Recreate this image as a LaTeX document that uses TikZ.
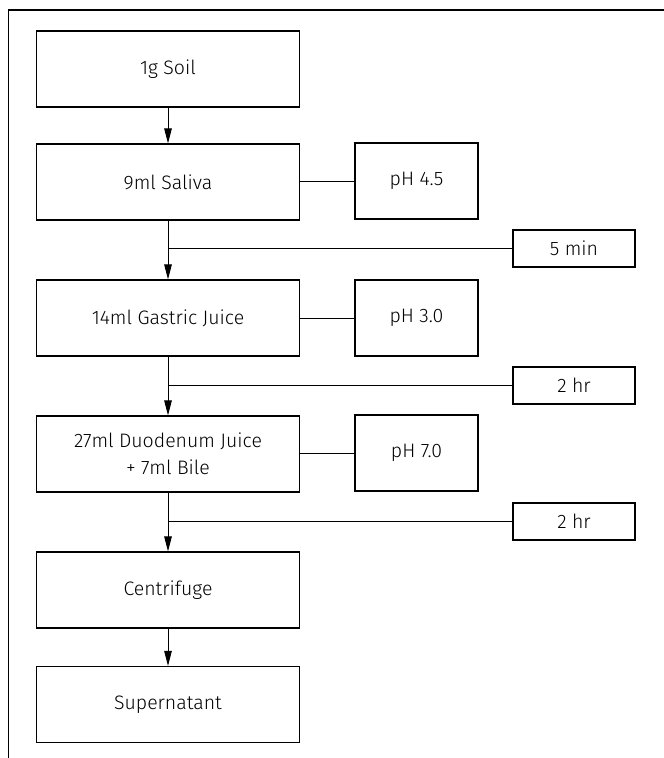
\documentclass[tikz,border=0pt]{standalone}
\usepackage{fontspec}
\setmainfont{Fira Sans}[UprightFont=* Light]
\usetikzlibrary{arrows.meta}
\begin{document}
\begin{tikzpicture}[x=1pt,y=-1pt,
  txt/.style={font=\fontsize{19.5}{27}\selectfont},
  mainbox/.style={txt,draw,line width=1.1pt,minimum width=263pt,minimum height=76pt,inner sep=0pt,align=center},
  phbox/.style={txt,draw,line width=1.1pt,minimum width=123pt,minimum height=76pt,inner sep=0pt},
  timebox/.style={txt,draw,line width=1.1pt,minimum width=122pt,minimum height=37pt,inner sep=0pt},
  flow/.style={line width=1pt,-{Triangle[length=15pt,width=7.5pt]}},
  link/.style={line width=1pt}]
\useasboundingbox (0,0) rectangle (664,758);
\draw[line width=1.3pt] (8.5,758) -- (8.5,10) -- (664,10);
\node[mainbox] (soil) at (168,69) {1g Soil};
\node[mainbox] (saliva) at (168,182) {9ml Saliva};
\node[mainbox] (gastric) at (168,318) {14ml Gastric Juice};
\node[mainbox] (duod) at (168,454) {27ml Duodenum Juice\\+ 7ml Bile};
\node[mainbox] (centri) at (168,590) {Centrifuge};
\node[mainbox] (super) at (168,704.5) {Supernatant};
\node[phbox] (ph1) at (416.5,181) {pH 4.5};
\node[phbox] (ph2) at (416.5,318) {pH 3.0};
\node[phbox] (ph3) at (416.5,453) {pH 7.0};
\node[timebox] (t1) at (574,248.5) {5 min};
\node[timebox] (t2) at (574,385.5) {2 hr};
\node[timebox] (t3) at (574,521.5) {2 hr};
\coordinate (j1) at (saliva.south |- t1.west);
\coordinate (j2) at (gastric.south |- t2.west);
\coordinate (j3) at (duod.south |- t3.west);
\draw[flow] (soil) -- (saliva);
\draw[flow] (saliva) -- (gastric);
\draw[flow] (gastric) -- (duod);
\draw[flow] (duod) -- (centri);
\draw[flow] (centri) -- (super);
\draw[link] (j1) -- (t1.west);
\draw[link] (j2) -- (t2.west);
\draw[link] (j3) -- (t3.west);
\draw[link] (saliva.east |- ph1.west) -- (ph1.west);
\draw[link] (gastric.east |- ph2.west) -- (ph2.west);
\draw[link] (duod.east |- ph3.west) -- (ph3.west);
\end{tikzpicture}
\end{document}
